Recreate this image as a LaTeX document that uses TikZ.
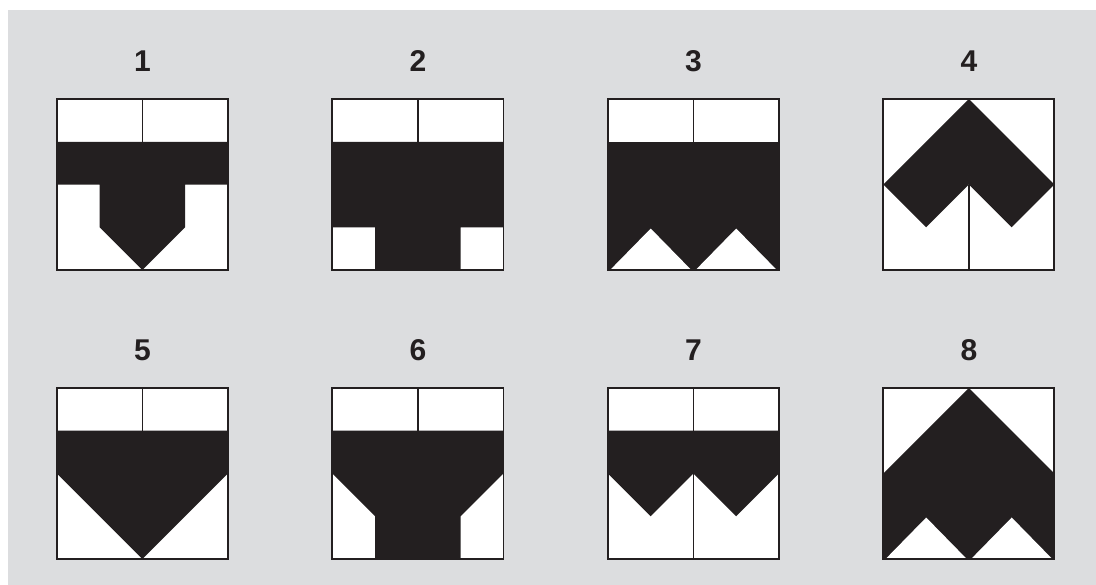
\documentclass[tikz,border=0pt]{standalone}
\usepackage{fontspec}
\setmainfont{Liberation Sans}
\usetikzlibrary{positioning}
\definecolor{panelgray}{HTML}{DCDDDF}
\definecolor{ink}{HTML}{231F20}
\tikzset{
  tile/.style   ={fill=white, minimum size=4cm, inner sep=0pt, outer sep=0pt},
  frame/.style  ={draw=ink, line width=1.3pt, line join=miter},
  divl/.style   ={draw=ink, line width=1.2pt},
  solid/.style  ={fill=ink},
  hole/.style   ={fill=white},
  num/.style    ={font=\fontsize{20}{24}\selectfont\bfseries, text=ink,
                  inner sep=0pt},
}

\begin{document}
\begin{tikzpicture}
  \useasboundingbox (0,0) rectangle (25.637,13.684);
  \fill[panelgray] (0.187,0) rectangle (25.637,13.450);
  % ---- tiles, top row then bottom row
  \node[tile] (t1) at ( 3.333,9.368) {};
  \node[tile] (t2) at ( 9.777,9.368) {};
  \node[tile] (t3) at (16.221,9.368) {};
  \node[tile] (t4) at (22.665,9.368) {};
  \node[tile] (t5) at ( 3.333,2.608) {};
  \node[tile] (t6) at ( 9.777,2.608) {};
  \node[tile] (t7) at (16.221,2.608) {};
  \node[tile] (t8) at (22.665,2.608) {};
  \foreach \i in {1,...,8}
    \node[num, above=0.64cm of t\i] (l\i) {\i};
  % ---- 1
  \begin{scope}[shift={(t1.south west)}]
    \fill[solid] (0,3) -- (4,3) -- (4,2) -- (3,2) -- (3,1) -- (2,0)
      -- (1,1) -- (1,2) -- (0,2) -- cycle;
    \draw[divl] (2,4) -- (2,3);
  \end{scope}
  % ---- 2
  \begin{scope}[shift={(t2.south west)}]
    \fill[solid] (0,3) -- (4,3) -- (4,1) -- (3,1) -- (3,0) -- (1,0)
      -- (1,1) -- (0,1) -- cycle;
    \draw[divl] (2,4) -- (2,3);
  \end{scope}
  % ---- 3
  \begin{scope}[shift={(t3.south west)}]
    \fill[solid] (0,0) rectangle (4,3);
    \fill[hole] (0.05,0) -- (1,0.97) -- (1.95,0) -- cycle;
    \fill[hole] (2.05,0) -- (3,0.97) -- (3.95,0) -- cycle;
    \draw[divl] (2,4) -- (2,3);
  \end{scope}
  % ---- 4
  \begin{scope}[shift={(t4.south west)}]
    \fill[solid] (2,4) -- (4,2) -- (3,1) -- (2,2) -- (1,1) -- (0,2) -- cycle;
    \draw[divl] (2,2) -- (2,0);
  \end{scope}
  % ---- 5
  \begin{scope}[shift={(t5.south west)}]
    \fill[solid] (0,3) -- (4,3) -- (4,2) -- (2,0) -- (0,2) -- cycle;
    \draw[divl] (2,4) -- (2,3);
  \end{scope}
  % ---- 6
  \begin{scope}[shift={(t6.south west)}]
    \fill[solid] (0,3) -- (4,3) -- (4,2) -- (3,1) -- (3,0) -- (1,0)
      -- (1,1) -- (0,2) -- cycle;
    \draw[divl] (2,4) -- (2,3);
  \end{scope}
  % ---- 7
  \begin{scope}[shift={(t7.south west)}]
    \fill[solid] (0,3) -- (4,3) -- (4,2) -- (3,1) -- (2,2) -- (1,1)
      -- (0,2) -- cycle;
    \draw[divl] (2,4) -- (2,3);
    \draw[divl] (2,2) -- (2,0);
  \end{scope}
  % ---- 8
  \begin{scope}[shift={(t8.south west)}]
    \fill[solid] (2,4) -- (4,2) -- (4,0) -- (0,0) -- (0,2) -- cycle;
    \fill[hole] (0.05,0) -- (1,0.97) -- (1.95,0) -- cycle;
    \fill[hole] (2.05,0) -- (3,0.97) -- (3.95,0) -- cycle;
  \end{scope}
  % ---- outlines on top
  \foreach \i in {1,...,8}
    \draw[frame] (t\i.south west) rectangle (t\i.north east);
\end{tikzpicture}
\end{document}
